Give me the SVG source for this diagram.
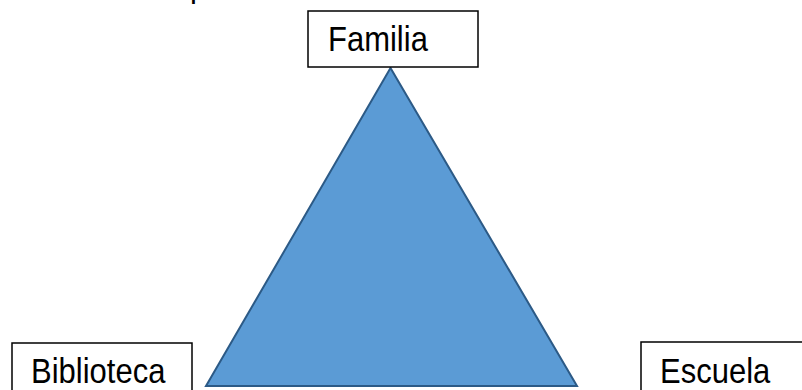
<svg xmlns="http://www.w3.org/2000/svg" width="802" height="390" viewBox="0 0 802 390">
<style>
.box{fill:#fff;stroke:#000;stroke-width:1.5}
.lbl{font-family:"Liberation Sans",Arial,sans-serif;font-size:31px;fill:#000}
</style>
<rect width="802" height="390" fill="#fff"/>
<text class="lbl" x="190" y="-3">p</text>
<g id="connectors">
<polygon points="390.5,68 206,386 577,386" fill="#5b9bd5" stroke="#2c5a86" stroke-width="2" stroke-linejoin="miter"/>
</g>
<g id="familia">
<rect class="box" x="308" y="11" width="170" height="56"/>
<text class="lbl" transform="translate(328,51) scale(1,1.12)">Familia</text>
</g>
<g id="biblioteca">
<rect class="box" x="12" y="343" width="180" height="60"/>
<text class="lbl" transform="translate(31,383) scale(1,1.12)">Biblioteca</text>
</g>
<g id="escuela">
<rect class="box" x="641" y="342" width="180" height="60"/>
<text class="lbl" transform="translate(660,383) scale(1,1.12)">Escuela</text>
</g>
</svg>
